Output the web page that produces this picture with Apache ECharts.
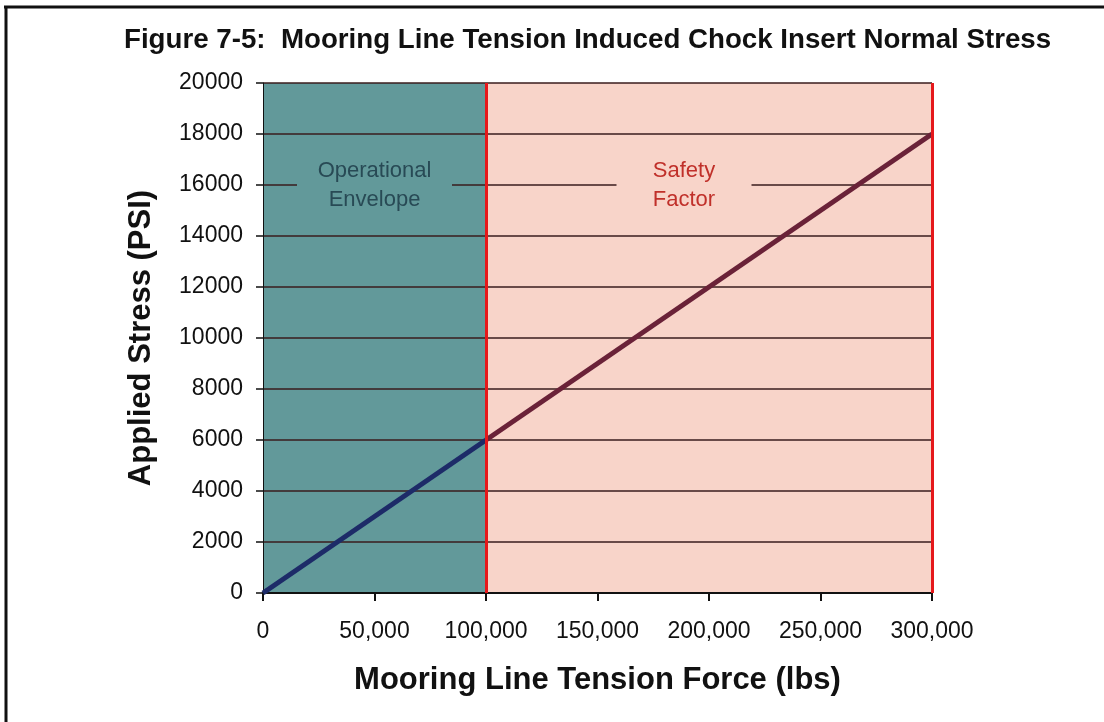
<!DOCTYPE html>
<html>
<head>
<meta charset="utf-8">
<script src="https://cdn.jsdelivr.net/npm/echarts@6/dist/echarts.min.js"></script>
<style>
  html, body { margin: 0; padding: 0; background: #fff; }
  #chart { width: 1104px; height: 722px; }
</style>
</head>
<body>
<div id="chart"></div>
<script>
// mooring line tension vs applied stress
const tension = [0, 100000, 300000]
const stress = [0, 6000, 18000]
const xTickLabels = ['0', '50,000', '100,000', '150,000', '200,000', '250,000', '300,000']
const zones = [
  { name: 'Operational\nEnvelope', from: 0, to: 100000 },
  { name: 'Safety\nFactor', from: 100000, to: 300000 },
]
const limits = [100000, 300000]

const chart = echarts.init(document.getElementById('chart'))

const tealFill = '#62999a'
const pinkFill = '#f8d4c9'
const redLine = '#e5181b'
const points = tension.map((t, i) => [t, stress[i]])
const font = 'Liberation Sans, Arial, sans-serif'

chart.setOption({
  animation: false,
  title: {
    text: 'Figure 7-5:  Mooring Line Tension Induced Chock Insert Normal Stress',
    left: 119,
    top: 21,
    textStyle: { fontFamily: font, fontWeight: 'bold', fontSize: 27.7, color: '#111' },
  },
  graphic: [
    { type: 'line', shape: { x1: 4, y1: 7, x2: 1104, y2: 7 }, style: { stroke: '#111', lineWidth: 3 } },
    { type: 'line', shape: { x1: 6, y1: 6, x2: 6, y2: 722 }, style: { stroke: '#111', lineWidth: 3 } },
  ],
  grid: { left: 263, right: 172, top: 83, bottom: 129 },
  xAxis: {
    type: 'value',
    min: 0,
    max: 300000,
    interval: 50000,
    z: 3,
    name: 'Mooring Line Tension Force (lbs)',
    nameLocation: 'middle',
    nameGap: 72,
    nameTextStyle: { fontFamily: font, fontWeight: 'bold', fontSize: 31, color: '#111' },
    axisLine: { show: true, lineStyle: { color: '#111', width: 2 } },
    axisTick: { show: true, length: 8, lineStyle: { color: '#111', width: 2 } },
    splitLine: { show: false },
    axisLabel: {
      margin: 27,
      fontFamily: font,
      fontSize: 23,
      color: '#111',
      formatter: (v) => xTickLabels[Math.round(v / 50000)],
    },
  },
  yAxis: {
    type: 'value',
    min: 0,
    max: 20000,
    interval: 2000,
    z: 2,
    name: 'Applied Stress (PSI)',
    nameLocation: 'middle',
    nameGap: 106,
    nameTextStyle: { fontFamily: font, fontWeight: 'bold', fontSize: 31, color: '#111' },
    axisLine: { show: true, lineStyle: { color: '#111', width: 1 } },
    axisTick: { show: true, length: 7, lineStyle: { color: '#111', width: 1.5 } },
    splitLine: { show: true, lineStyle: { color: '#3a1c1c', width: 1.5 } },
    axisLabel: {
      margin: 20,
      fontFamily: font,
      fontSize: 23,
      color: '#111',
      formatter: (v) => String(v),
    },
  },
  series: [
    {
      // shaded zones, drawn under the gridlines
      type: 'line',
      z: 1,
      silent: true,
      data: points,
      showSymbol: false,
      lineStyle: { opacity: 0 },
      markArea: {
        silent: true,
        z: 1,
        data: zones.map((zn, i) => [
          { xAxis: zn.from, itemStyle: { color: i === 0 ? tealFill : pinkFill } },
          { xAxis: zn.to },
        ]),
      },
    },
    {
      // zone labels and limit lines, above the gridlines
      type: 'line',
      z: 4,
      silent: true,
      data: points,
      showSymbol: false,
      lineStyle: { opacity: 0 },
      markLine: {
        silent: true,
        z: 6,
        symbol: 'none',
        label: { show: false },
        lineStyle: { color: redLine, width: 3, type: 'solid' },
        data: limits.map(v => ({ xAxis: v })),
      },
      markArea: {
        silent: true,
        z: 4,
        itemStyle: { color: 'transparent' },
        data: zones.map((zn, i) => [
          {
            xAxis: zn.from,
            label: {
              show: true,
              position: 'insideTop',
              distance: 70,
              offset: i === 0 ? [0, 0] : [-25, 0],
              formatter: zn.name,
              fontFamily: font,
              fontSize: 22,
              lineHeight: 29,
              color: i === 0 ? '#284a55' : '#c0302a',
              backgroundColor: i === 0 ? tealFill : pinkFill,
              width: i === 0 ? 155 : 135,
              align: 'center',
              padding: [3, 0],
            },
          },
          { xAxis: zn.to },
        ]),
      },
    },
    {
      // operational part of the line
      type: 'line',
      z: 5,
      silent: true,
      data: points.slice(0, 2),
      showSymbol: false,
      lineStyle: { width: 5, color: '#1d2b68' },
    },
    {
      // safety-factor part of the line
      type: 'line',
      z: 5,
      silent: true,
      data: points.slice(1),
      showSymbol: false,
      lineStyle: { width: 5, color: '#6a2238' },
    },
  ],
})
</script>
</body>
</html>
